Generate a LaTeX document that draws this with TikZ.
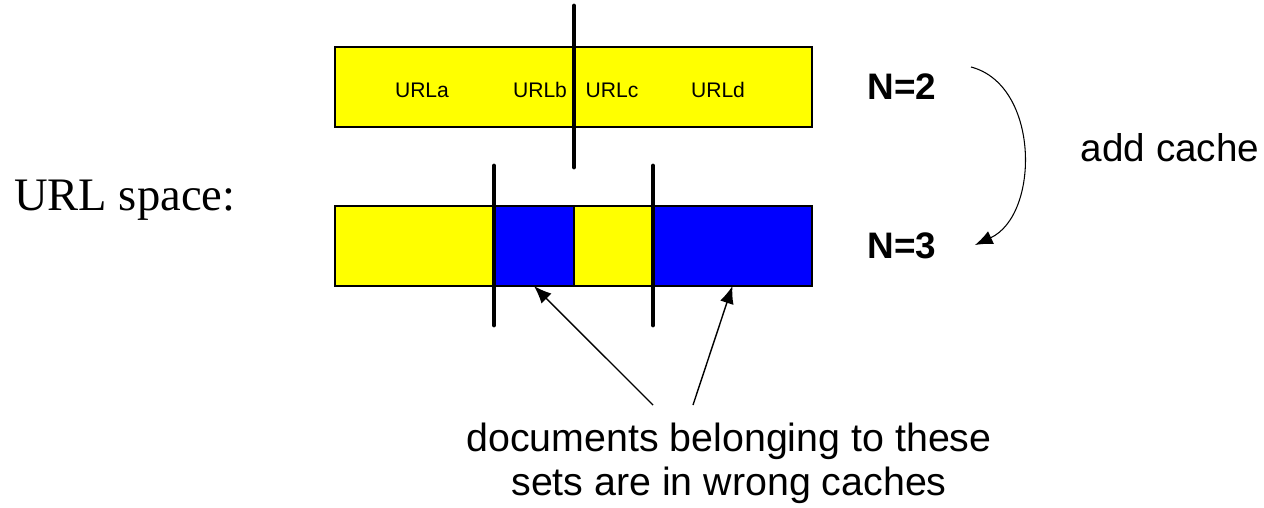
\documentclass[tikz,border=0pt]{standalone}
\usepackage{fontspec}
\setmainfont{Liberation Sans}
\newfontfamily\timesfont{Liberation Serif}
\usetikzlibrary{positioning,arrows.meta}
\definecolor{urlyellow}{RGB}{255,255,0}
\definecolor{urlblue}{RGB}{0,0,255}

\begin{document}
\begin{tikzpicture}[x=0.02cm,y=-0.02cm,
		seg/.style={draw=black,line width=0.8pt,minimum height=1.6cm,inner sep=0pt,outer sep=0pt,anchor=north west},
		cut/.style={line width=2.8pt,line cap=round},
		pointer/.style={line width=0.8pt,-{Latex[length=10pt,width=8pt]}},
		urllabel/.style={font=\fontsize{12}{14}\selectfont},
		nlabel/.style={font=\bfseries\fontsize{21}{25}\selectfont}]
		\useasboundingbox (0,0) rectangle (1264,507);

		% old partition, two caches
		\node [seg, fill=urlyellow, minimum width=9.54cm] (topbar) at (335,47) {};
		\node [urllabel] (urla) at (422,90) {URLa};
		\node [urllabel] (urlb) at (540,90) {URLb};
		\node [urllabel] (urlc) at (612,90) {URLc};
		\node [urllabel] (urld) at (718,90) {URLd};
		\draw [cut] (574,6) -- (574,167);
		\node [nlabel] (ntwo) at (902,87) {N=2};

		% new partition, three caches
		\node [seg, fill=urlyellow, minimum width=3.18cm] (yellowa) at (335,206) {};
		\node [seg, fill=urlblue, minimum width=1.6cm, right=0pt of yellowa.north east, anchor=north west] (blueb) {};
		\node [seg, fill=urlyellow, minimum width=1.58cm, right=0pt of blueb.north east, anchor=north west] (yellowc) {};
		\node [seg, fill=urlblue, minimum width=3.18cm, right=0pt of yellowc.north east, anchor=north west] (blued) {};
		\draw [cut] (494,166) -- (494,325);
		\draw [cut] (653,166) -- (653,325);
		\node [nlabel] (nthree) at (902,246) {N=3};

		\node [anchor=base west, font=\timesfont\fontsize{26.5}{30}\selectfont] (space) at (8,210) {URL space:};

		\coordinate (bendfrom) at (971,67);
		\coordinate (bendto) at (975,245);
		\draw [line width=0.6pt, -{Latex[length=10pt,width=8pt]}] (bendfrom) .. controls (1040,85) and (1040,215) .. (bendto);
		\node [font=\fontsize{22}{25}\selectfont] (addcache) at (1170,148) {add cache};

		% the misplaced sets
		\node [anchor=north, align=center, inner sep=0pt, font=\fontsize{22.4}{25}\selectfont] (docs) at (729,423)
			{documents belonging to these\\sets are in wrong caches};
		\coordinate (tailb) at (653,405);
		\coordinate (taild) at (693,405);
		\draw [pointer] (tailb) -- (blueb.south);
		\draw [pointer] (taild) -- (blued.south);
\end{tikzpicture}
\end{document}
